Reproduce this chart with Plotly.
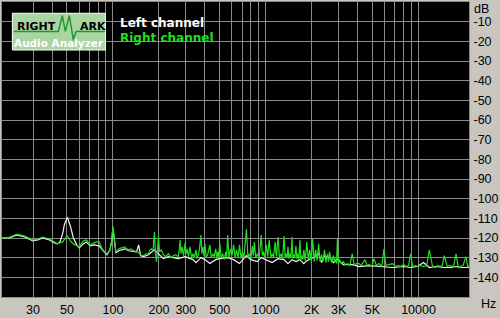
import plotly.graph_objects as go
import math

# ---------------- data ----------------
green_hz = [18.8, 20.0, 21.2, 22.4, 23.6, 25.0, 26.5, 28.2, 29.9, 31.0,
            32.2, 34.7, 36.5, 38.5, 41.5, 43.4, 45.0, 46.8, 48.5, 50.4,
            52.7, 55.1, 58.5, 60.3, 62.0, 63.9, 66.9, 69.0, 71.0, 73.0,
            75.4, 78.0, 81.2, 84.9, 88.8, 91.5, 93.5, 95.6, 98.0, 100,
            102.5, 104.6, 107, 109.4, 114, 119.6, 123, 126.9, 131, 136.8,
            143, 147.3, 151.8, 158.7, 165, 171, 175, 178.8, 183, 187,
            190, 192.7, 195.5, 198.5, 202, 207.6, 213.9, 222, 230.5, 240,
            248.2, 257, 267.4, 271, 275.5, 279, 283.9, 290, 296.8, 301,
            305.8, 312, 319.8, 327, 334.4, 341, 349.7, 355, 360, 368,
            376.8, 382, 388.2, 394, 399.9, 408, 418.2, 430.8, 440, 450.5,
            460, 471.1, 478, 485.4, 492, 500, 511, 522.9, 535, 546.8,
            555, 563.4, 575, 589.1, 602, 616.1, 630, 644.3, 660, 673.7,
            690, 704.5, 720, 747.7, 765, 781.9, 800, 817.7, 830, 842.5,
            860, 881, 905, 935.1, 950, 963.4, 985, 1007.5, 1030, 1053.6,
            1080, 1101.8, 1125, 1152.2, 1175, 1204.9, 1230, 1260, 1290, 1317.6,
            1340, 1357.6, 1380, 1398.6, 1420, 1441.1, 1462, 1484.8, 1505, 1530,
            1552, 1576.3, 1600, 1624.2, 1648, 1673.5, 1700, 1723.9, 1750, 1776.2,
            1815, 1856.9, 1900, 1941, 1985, 2029.6, 2075, 2122.7, 2170, 2219.5,
            2270, 2320.6, 2370, 2426.5, 2480, 2537.1, 2575, 2614.4, 2700, 2776.9,
            2820, 2860.9, 2905, 2947.5, 2990, 3036.8, 3130, 3224.8, 3300, 3450,
            3550, 3684, 3800, 3910, 4089, 4200, 4471.6, 4600, 4746, 4950,
            5113.2, 5300, 5510, 5761, 5935.5, 6115, 6400, 6786.3, 7050, 7312,
            7650, 7997, 8300, 8615, 8876.5, 9146, 9500, 9851, 10300, 10774,
            11300, 11781, 12319, 12883, 13400, 13881, 14300, 14735, 15407, 16000,
            16355, 17000, 17620, 18200, 18700, 19558, 20452, 21000, 21400]

green_db = [-120, -120, -119.5, -118.8, -118, -118.5, -119, -120, -121, -120.8,
            -120.5, -119.5, -120, -120.5, -122, -123, -122.5, -122, -120.5, -119,
            -121.5, -123, -124, -124.5, -123, -121.5, -121, -122.5, -123.5, -123,
            -122.5, -122, -122, -125.5, -127.5, -128, -127, -126, -122, -114,
            -121, -127, -126.5, -125.5, -125, -124.5, -125.5, -126, -125.5, -126.5,
            -127, -127.5, -128.5, -129, -128, -128, -126, -125.5, -127, -117,
            -128, -132, -127, -119, -127, -126, -128.5, -129.5, -128, -130,
            -129, -128.5, -129.5, -127, -121, -128, -124.5, -129, -122.5, -128,
            -125.5, -129.5, -124.5, -130, -128, -130, -126, -130.5, -129, -126,
            -118.5, -128, -124.5, -129, -123, -130, -128, -123.5, -130, -128,
            -129.5, -125.5, -130.5, -127, -129.5, -122.5, -130, -128, -131, -127,
            -130, -118.5, -130, -125.5, -129, -123.5, -130, -126, -130, -123.5,
            -130.5, -127, -130, -115.5, -130, -128, -130.5, -124, -129, -122,
            -130, -128, -130.5, -118.5, -129, -127, -130, -123.5, -129.5, -121,
            -130, -128, -130, -122, -129.5, -119.5, -130, -128, -130.5, -119,
            -130, -128, -130, -124.5, -130.5, -128, -130, -119.5, -130.5, -128.5,
            -130, -124, -130.5, -128, -131, -121, -131, -129, -131, -126,
            -131.5, -122, -131, -126, -131.5, -120.5, -132, -126, -131.5, -123,
            -132, -128.5, -132, -126, -132.5, -128, -132, -127, -132.5, -129,
            -132.5, -130.5, -133, -120.5, -133, -131, -133, -132, -133.5, -133,
            -134, -128, -134, -133, -133, -134, -131, -134, -133.5, -134.5,
            -130.5, -134, -133, -134.5, -125.5, -134, -133.5, -133, -134.5, -134,
            -134.5, -133.5, -134.5, -134, -128, -134.5, -134, -134.5, -134, -134.5,
            -134, -126, -134, -135, -134, -134.5, -134, -129, -134.5, -134,
            -134.5, -134, -128, -135, -134.5, -134, -129.5, -134.5, -134]

white_hz = [18.8, 21.2, 23.6, 26.5, 29.9, 32.2, 34.7, 38.5, 41.5, 43.4,
            45.0, 46.8, 48.2, 50.4, 52.7, 55.1, 58.5, 60.3, 63.9, 66.9,
            71.0, 75.4, 81.2, 84.9, 88.8, 91.5, 95.6, 98.0, 100, 102.5,
            104.6, 109.4, 119.6, 126.9, 136.8, 143, 147.3, 151.8, 158.7, 171,
            187, 198.5, 213.9, 230.5, 248.2, 267.4, 296.8, 334.4, 349.7, 376.8,
            400, 430.8, 471.1, 500, 563.4, 616.1, 673.7, 704.5, 747.7, 800,
            881, 935.1, 1007.5, 1101.8, 1204.9, 1317.6, 1398.6, 1484.8, 1576.3, 1673.5,
            1776.2, 1856.9, 2029.6, 2219.5, 2320.6, 2426.5, 2614.4, 2776.9, 2947.5, 3224.8,
            3684, 4089, 4746, 5510, 6115, 6786, 7997, 8876, 9851, 10774,
            11781, 12883, 14735, 16355, 17620, 19558, 21400]

white_db = [-120, -119.8, -118.5, -119.5, -121.5, -121, -120, -121, -122.5, -123,
            -122, -118, -113, -109.5, -114, -120, -124, -125, -123, -122,
            -124, -123.5, -124, -126, -127.5, -128.5, -126, -122, -115, -122,
            -127.5, -126.5, -125.5, -126.5, -127, -127, -123.5, -129, -129.5, -128.5,
            -126, -128, -130.5, -129.5, -130, -130.5, -129.5, -131, -132.5, -130,
            -131, -133, -131, -130.5, -130, -131, -133, -131.5, -129, -131,
            -132, -130, -131, -132.5, -130.5, -131, -133, -131, -132, -131,
            -133, -131.5, -130, -128, -132.5, -129, -130, -132.5, -131, -133.5,
            -133.5, -134.5, -134, -134.5, -134.5, -135, -134.5, -135, -134.5, -132.5,
            -135, -134.5, -135, -135, -134.5, -135, -135]

y_ticks = [-10, -20, -30, -40, -50, -60, -70, -80, -90, -100, -110, -120, -130, -140]
x_grid = [30, 40, 50, 60, 70, 80, 90, 100, 200, 300, 400, 500, 600, 700, 800, 900,
          1000, 2000, 3000, 4000, 5000, 6000, 7000, 8000, 9000, 10000]
x_labels = {30: "30", 50: "50", 100: "100", 200: "200", 300: "300", 500: "500",
            1000: "1000", 2000: "2K", 3000: "3K", 5000: "5K", 10000: "10000"}

# ---------------- geometry ----------------
W, H = 500, 318
L, R, T, B = 2, 26, 1, 16
PW, PH = W - L - R, H - T - B


def px(x):
    return (x - L) / PW


def py(y):
    return 1 - (y - T) / PH


GRID = "#8a8a8a"
BG = "#c9c6c0"
GREEN = "#22dd22"

fig = go.Figure()
fig.add_trace(go.Scatter(x=white_hz, y=white_db, mode="lines",
                         line=dict(color="#f2f2f2", width=1.2), hoverinfo="skip",
                         name="Left channel"))
fig.add_trace(go.Scatter(x=green_hz, y=green_db, mode="lines",
                         line=dict(color=GREEN, width=1.2), hoverinfo="skip",
                         name="Right channel"))

fig.update_layout(
    width=W, height=H,
    margin=dict(l=L, r=R, t=T, b=B, pad=0),
    paper_bgcolor=BG, plot_bgcolor="black",
    showlegend=False,
    font=dict(family="Liberation Sans, Arial, sans-serif", size=12, color="black"),
    xaxis=dict(type="log", range=[math.log10(18.8), math.log10(21400)],
               tickvals=x_grid, ticktext=[x_labels.get(v, "") for v in x_grid],
               tickangle=0,
               showgrid=True, gridcolor=GRID, gridwidth=1, zeroline=False,
               showline=True, linecolor=GRID, linewidth=1, mirror=True,
               ticks="", ticklabelstandoff=1,
               tickfont=dict(size=12.5, color="black")),
    yaxis=dict(range=[-150, 0], side="right",
               tickvals=y_ticks, ticktext=[str(v) for v in y_ticks],
               showgrid=True, gridcolor=GRID, gridwidth=1, zeroline=False,
               showline=True, linecolor=GRID, linewidth=1, mirror=True,
               ticks="", ticklabelstandoff=1,
               tickfont=dict(size=12.5, color="black")),
)

annotations = [
    dict(text="dB", x=px(477), y=py(8), xanchor="left", yanchor="middle",
         font=dict(size=12.5, color="black")),
    dict(text="Hz", x=px(484), y=py(309), xanchor="left", yanchor="middle",
         font=dict(size=12.5, color="black")),
    dict(text="<b>Left channel</b>", x=px(119), y=py(22), xanchor="left", yanchor="middle",
         font=dict(family="DejaVu Sans", size=12, color="white")),
    dict(text="<b>Right channel</b>", x=px(119), y=py(38), xanchor="left", yanchor="middle",
         font=dict(family="DejaVu Sans", size=12, color=GREEN)),
    dict(text="<b>RIGHT</b>", x=px(15), y=py(26), xanchor="left", yanchor="middle",
         font=dict(family="DejaVu Sans", size=11, color="black")),
    dict(text="<b>ARK</b>", x=px(79), y=py(26), xanchor="left", yanchor="middle",
         font=dict(family="DejaVu Sans", size=11, color="black")),
    dict(text="<b>Audio Analyzer</b>", x=px(60), y=py(42.5), xanchor="center", yanchor="middle",
         font=dict(family="DejaVu Sans", size=10.5, color="white")),
]
for a in annotations:
    a.update(xref="paper", yref="paper", showarrow=False)
fig.update_layout(annotations=annotations)

# logo box and wave
wave = [(14, 31), (59, 31), (63, 15), (66, 31), (70, 15), (74, 39), (77, 31), (106, 31)]
path = "M " + " L ".join(f"{px(x):.5f},{py(y):.5f}" for x, y in wave)
fig.update_layout(shapes=[
    dict(type="rect", xref="paper", yref="paper",
         x0=px(12.5), x1=px(106.5), y0=py(50), y1=py(12.5),
         fillcolor="#aad4a2", line=dict(color="white", width=1), layer="above"),
    dict(type="path", xref="paper", yref="paper", path=path,
         line=dict(color="#1f9a2a", width=1.5), layer="above"),
])

fig.write_html("out.html")
